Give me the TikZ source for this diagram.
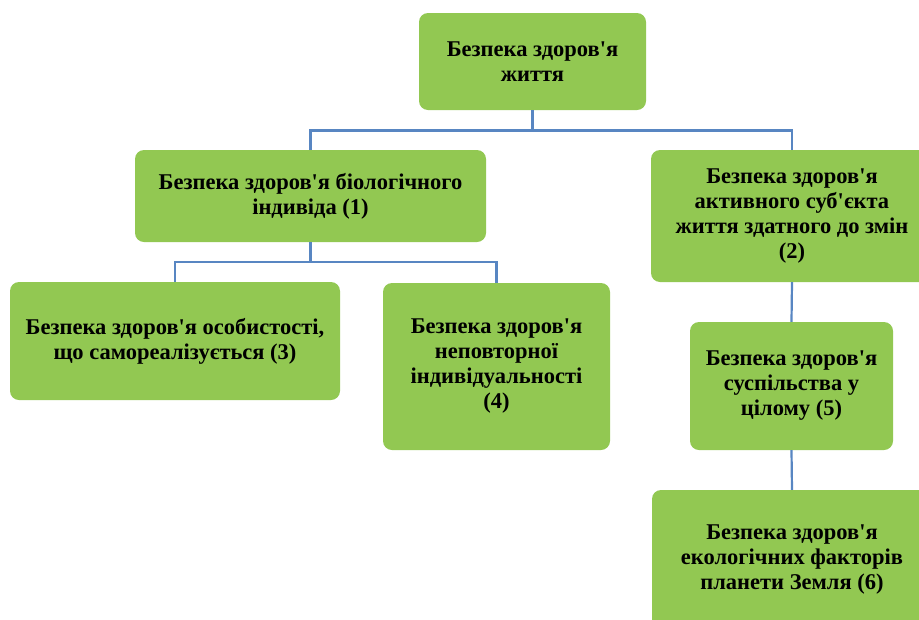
\documentclass[tikz,border=0pt]{standalone}
\usepackage{fontspec}
\setmainfont{Liberation Serif}[Ligatures=TeXOff]
\usepackage{tikz}
\definecolor{boxgreen}{RGB}{146,200,82}
\definecolor{linkblue}{RGB}{88,134,194}
\tikzstyle{box}=[rectangle,rounded corners=9pt,fill=boxgreen,align=center,
  font=\fontsize{22.5}{25}\selectfont\bfseries,inner sep=0pt]
\tikzstyle{link}=[draw=linkblue,line width=2.2pt]

\begin{document}
\begin{tikzpicture}[x=1pt,y=-1pt]
  \useasboundingbox (0,0) rectangle (919,619);
  % boxes
  \node[box,minimum width=227pt,minimum height=97pt] (zhyttia) at (532.5,61.5)
    {Безпека здоров'я\\життя};
  \node[box,minimum width=351pt,minimum height=92pt] (biol) at (310.5,196)
    {Безпека здоров'я біологічного\\індивіда (1)};
  \node[box,minimum width=282pt,minimum height=132pt] (aktyv) at (792,216)
    {Безпека здоров'я\\активного суб'єкта\\життя здатного до змін\\(2)};
  \node[box,minimum width=330pt,minimum height=118pt] (osob) at (175,341)
    {Безпека здоров'я особистості,\\що самореалізується (3)};
  \node[box,minimum width=227pt,minimum height=167pt] (nepovt) at (496.5,366.5)
    {Безпека здоров'я\\неповторної\\індивідуальності\\(4)};
  \node[box,minimum width=203pt,minimum height=128pt] (suspil) at (791.5,386)
    {Безпека здоров'я\\суспільства у\\цілому (5)};
  \node[box,minimum width=280pt,minimum height=140pt] (ekol) at (792,560)
    {Безпека здоров'я\\екологічних факторів\\планети Земля (6)};
  % forks
  \coordinate (fork1) at (532.5,130.5);
  \coordinate (fork2) at (310.5,262);
  % connectors
  \draw[link] (zhyttia.south) -- (fork1) -| (biol.north);
  \draw[link] (fork1) -| (aktyv.north);
  \draw[link] (biol.south) -- (fork2) -| (osob.north);
  \draw[link] (fork2) -| (nepovt.north);
  \draw[link] (aktyv.south) -- (suspil.north);
  \draw[link] (suspil.south) -- (ekol.north);
\end{tikzpicture}
\end{document}
